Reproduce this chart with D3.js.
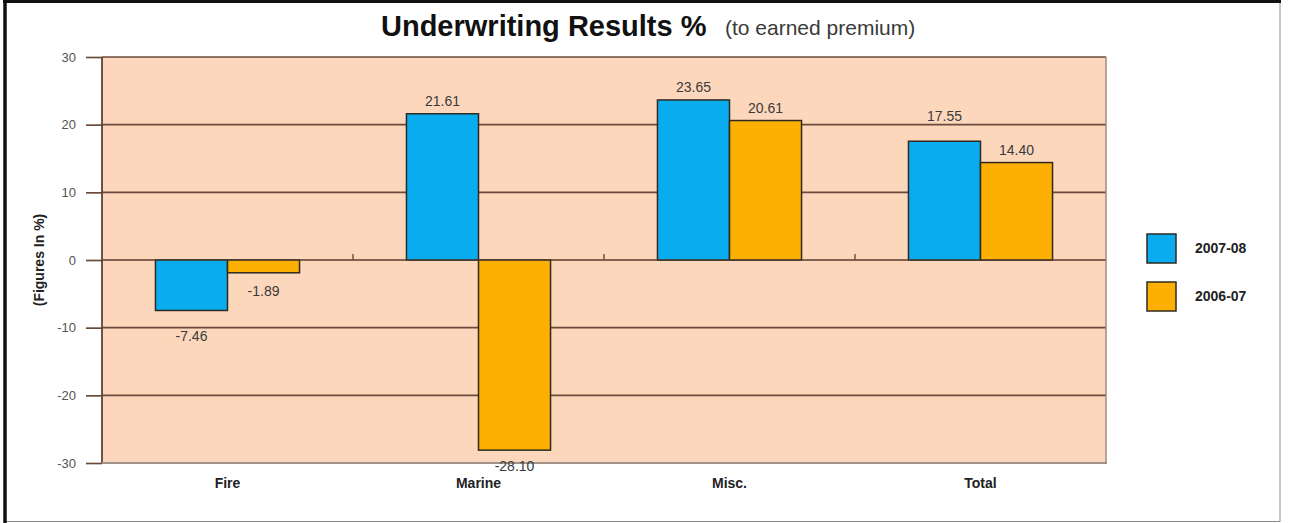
<!DOCTYPE html>
<html>
<head>
<meta charset="utf-8">
<script src="https://cdn.jsdelivr.net/npm/d3@7"></script>
<style>
  html, body { margin: 0; padding: 0; background: #ffffff; }
  svg { display: block; font-family: "Liberation Sans", Arial, sans-serif; }
</style>
</head>
<body>
<svg id="chart" width="1289" height="523"></svg>
<script>
// Underwriting results by line of business, % of earned premium
const categories = ["Fire", "Marine", "Misc.", "Total"];
const seriesNames = ["2007-08", "2006-07"];
const values0708 = [-7.46, 21.61, 23.65, 17.55];
const values0607 = [-1.89, -28.10, 20.61, 14.40];
const yTickValues = [-30, -20, -10, 0, 10, 20, 30];

const seriesColors = { "2007-08": "#0AACF0", "2006-07": "#FDB002" };

// extra vertical room for a few value labels (px)
const labelNudge = {
  "2007-08": [10, 0, 0, 12],
  "2006-07": [2, 0, 0, 0]
};

// plain hyphen for negatives
const fmt2 = v => d3.format(".2f")(v).replace("\u2212", "-");
const fmtInt = v => d3.format("d")(v).replace("\u2212", "-");

const plot = { left: 102, right: 1106, top: 57, bottom: 463 };

const svg = d3.select("#chart");

// outer frame
svg.append("rect")
  .attr("x", 5).attr("y", 2).attr("width", 1275).attr("height", 519.5)
  .attr("fill", "#ffffff").attr("stroke", "#8c8c8c").attr("stroke-width", 1);
svg.append("line").attr("x1", 5).attr("x2", 5).attr("y1", 0).attr("y2", 523)
  .attr("stroke", "#111").attr("stroke-width", 3.5);
svg.append("line").attr("x1", 3).attr("x2", 1281).attr("y1", 1.5).attr("y2", 1.5)
  .attr("stroke", "#111").attr("stroke-width", 3);

// scales
const x0 = d3.scaleBand()
  .domain(categories)
  .range([plot.left, plot.right])
  .paddingInner(0.426)
  .paddingOuter(0.213);
const x1 = d3.scaleBand()
  .domain(seriesNames)
  .range([0, x0.bandwidth()])
  .padding(0);
const y = d3.scaleLinear().domain([-30, 30]).range([plot.bottom, plot.top]);

// plot background
svg.append("rect")
  .attr("x", plot.left).attr("y", plot.top)
  .attr("width", plot.right - plot.left).attr("height", plot.bottom - plot.top)
  .attr("fill", "#FDD7BC");

// horizontal gridlines
svg.append("g").selectAll("line")
  .data(yTickValues.filter(v => v > -30))
  .join("line")
  .attr("x1", plot.left).attr("x2", plot.right)
  .attr("y1", d => y(d)).attr("y2", d => y(d))
  .attr("stroke", "#6A4A3A").attr("stroke-width", 1.7);

// y axis with outward ticks
const yAxis = d3.axisLeft(y).tickValues(yTickValues).tickSize(16).tickPadding(10)
  .tickFormat(fmtInt);
const gy = svg.append("g").attr("transform", `translate(${plot.left},0)`).call(yAxis);
gy.select(".domain").remove();
gy.selectAll(".tick line").attr("stroke", "#6A4A3A").attr("stroke-width", 1.7);
gy.selectAll(".tick text")
  .attr("fill", "#555").attr("font-size", 13)
  .attr("font-family", "Liberation Sans, Arial, sans-serif");

// plot border: left dark, bottom and right lighter
svg.append("line")
  .attr("x1", plot.left).attr("x2", plot.left).attr("y1", plot.top).attr("y2", plot.bottom)
  .attr("stroke", "#5A4536").attr("stroke-width", 1.8);
svg.append("line")
  .attr("x1", plot.left).attr("x2", plot.right + 1).attr("y1", plot.bottom).attr("y2", plot.bottom)
  .attr("stroke", "#A0918A").attr("stroke-width", 2.2);
svg.append("line")
  .attr("x1", plot.right).attr("x2", plot.right).attr("y1", plot.top).attr("y2", plot.bottom)
  .attr("stroke", "#9A8478").attr("stroke-width", 1.4);

// category separators on the zero line
const step = x0.step();
svg.append("g").selectAll("line")
  .data(categories.slice(1))
  .join("line")
  .attr("x1", d => x0(d) - step * x0.paddingInner() / 2)
  .attr("x2", d => x0(d) - step * x0.paddingInner() / 2)
  .attr("y1", y(0) - 6).attr("y2", y(0))
  .attr("stroke", "#6A4A3A").attr("stroke-width", 1.4);

// bars
const rows = categories.map((c, i) => ({
  category: c,
  values: [
    { series: "2007-08", value: values0708[i], idx: i },
    { series: "2006-07", value: values0607[i], idx: i }
  ]
}));

const groups = svg.append("g").selectAll("g")
  .data(rows)
  .join("g")
  .attr("transform", d => `translate(${x0(d.category)},0)`);

groups.selectAll("rect")
  .data(d => d.values)
  .join("rect")
  .attr("x", d => x1(d.series))
  .attr("y", d => y(Math.max(0, d.value)))
  .attr("width", x1.bandwidth())
  .attr("height", d => Math.abs(y(d.value) - y(0)))
  .attr("fill", d => seriesColors[d.series])
  .attr("stroke", "#2E2A22")
  .attr("stroke-width", 1.5);

// zero line redrawn above bars
svg.append("line")
  .attr("x1", plot.left).attr("x2", plot.right).attr("y1", y(0)).attr("y2", y(0))
  .attr("stroke", "#6A4A3A").attr("stroke-width", 1.2).attr("opacity", 0.6);

// value labels
groups.selectAll("text")
  .data(d => d.values)
  .join("text")
  .attr("x", d => x1(d.series) + x1.bandwidth() / 2)
  .attr("y", d => {
    const n = labelNudge[d.series][d.idx];
    return d.value >= 0 ? y(d.value) - 8 - n : y(d.value) + 21 + n;
  })
  .attr("text-anchor", "middle")
  .attr("font-size", 14)
  .attr("fill", "#3a3a3a")
  .text(d => fmt2(d.value));

// category labels
svg.append("g").selectAll("text")
  .data(categories)
  .join("text")
  .attr("x", d => x0(d) + x0.bandwidth() / 2)
  .attr("y", 488)
  .attr("text-anchor", "middle")
  .attr("font-size", 14)
  .attr("font-weight", "bold")
  .attr("fill", "#222")
  .text(d => d);

// y axis title
svg.append("text")
  .attr("transform", `translate(44,${y(0)}) rotate(-90)`)
  .attr("text-anchor", "middle")
  .attr("font-size", 14)
  .attr("font-weight", "bold")
  .attr("fill", "#222")
  .text("(Figures In %)");

// title
svg.append("text")
  .attr("x", 381).attr("y", 36)
  .attr("font-size", 29).attr("font-weight", "bold").attr("fill", "#111")
  .text("Underwriting Results %");
svg.append("text")
  .attr("x", 725).attr("y", 35)
  .attr("font-size", 21).attr("fill", "#3a3a3a")
  .text("(to earned premium)");

// legend
const legend = svg.append("g").selectAll("g")
  .data(seriesNames)
  .join("g")
  .attr("transform", (d, i) => `translate(1147,${234 + i * 48})`);
legend.append("rect")
  .attr("width", 29).attr("height", 29)
  .attr("fill", d => seriesColors[d])
  .attr("stroke", "#2E2A22").attr("stroke-width", 1.5);
legend.append("text")
  .attr("x", 48).attr("y", 19)
  .attr("font-size", 14).attr("font-weight", "bold").attr("fill", "#222")
  .text(d => d);
</script>
</body>
</html>
